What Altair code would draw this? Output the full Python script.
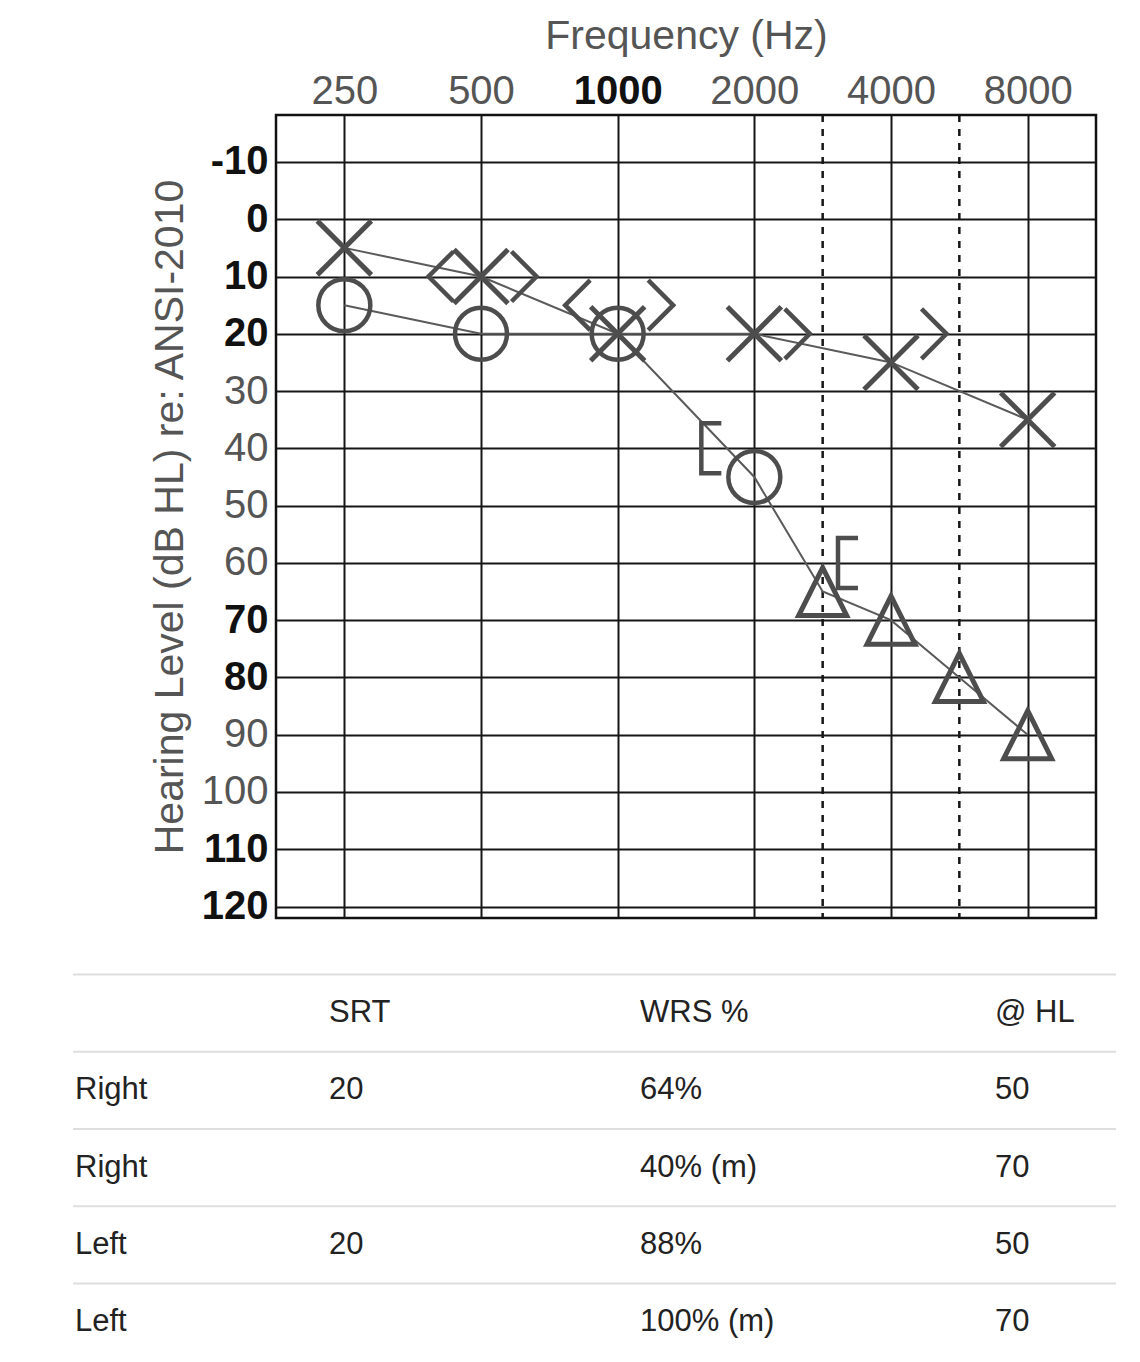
import json
import math
import altair as alt
import pandas as pd

# ---------------- audiogram data (frequency in Hz, level in dB HL) ----------------
left_air_freq = [250, 500, 1000, 2000, 4000, 8000]          # X
left_air_db = [5, 10, 20, 20, 25, 35]
right_air_freq = [250, 500, 1000, 2000]                      # O
right_air_db = [15, 20, 20, 45]
right_air_masked_freq = [3000, 4000, 6000, 8000]             # triangle
right_air_masked_db = [65, 70, 80, 90]
right_bone_freq = [500, 1000]                                # <
right_bone_db = [10, 15]
left_bone_freq = [500, 1000, 2000, 4000]                     # >
left_bone_db = [10, 15, 20, 20]
right_bone_masked_freq = [2000, 4000]                        # [
right_bone_masked_db = [40, 60]

octave_freqs = [250, 500, 1000, 2000, 4000, 8000]
octave_labels = ["250", "500", "1000", "2000", "4000", "8000"]
interoctave_freqs = [3000, 6000]
db_ticks = list(range(-10, 130, 10))
bold_db_labels = [-10, 0, 10, 20, 70, 80, 110, 120]
bold_freq_labels = ["1000"]

# ---------------- speech table ----------------
table_headers = ["", "SRT", "WRS %", "@ HL"]
table_ear = ["Right", "Right", "Left", "Left"]
table_srt = ["20", "", "20", ""]
table_wrs = ["64%", "40% (m)", "88%", "100% (m)"]
table_hl = ["50", "70", "50", "70"]

FONT = "Liberation Sans"
INK = "#4d4d4d"
GRID = "#161616"

POS = "round(2 * log(datum.freq / 250) / log(2)) / 2"


def df(freq, db):
    return pd.DataFrame({"freq": freq, "db": db})


octave_pos = [math.log2(f / octave_freqs[0]) for f in octave_freqs]
bold_x_test = " || ".join(
    f"datum.value == {octave_pos[octave_labels.index(l)]:g}" for l in bold_freq_labels
)
bold_y_test = f"indexof({json.dumps(bold_db_labels)}, datum.value) >= 0"

xscale = alt.Scale(domain=[-0.5, 5.5], nice=False, zero=False)
yscale = alt.Scale(domain=[-18.2, 122], reverse=True, nice=False, zero=False)


def X():
    return alt.X(
        "pos:Q",
        scale=xscale,
        axis=alt.Axis(
            orient="top",
            values=octave_pos,
            labelExpr=f"{json.dumps(octave_labels)}[round(datum.value)]",
            grid=True,
            gridColor=GRID,
            gridWidth=2,
            gridOpacity=1,
            ticks=False,
            domain=False,
            labelFont=FONT,
            labelFontSize=40,
            labelPadding=4,
            labelColor={"condition": {"test": bold_x_test, "value": "#111111"}, "value": "#555555"},
            labelFontWeight={"condition": {"test": bold_x_test, "value": "bold"}, "value": "normal"},
            title="Frequency (Hz)",
            titleFont=FONT,
            titleFontSize=41,
            titleFontWeight="normal",
            titleColor="#555555",
            titlePadding=14,
        ),
    )


def Y():
    return alt.Y(
        "db:Q",
        scale=yscale,
        axis=alt.Axis(
            orient="left",
            values=db_ticks,
            labelExpr="'' + datum.value",
            grid=True,
            gridColor=GRID,
            gridWidth=2,
            gridOpacity=1,
            ticks=False,
            domain=False,
            labelFont=FONT,
            labelFontSize=40,
            labelPadding=8,
            labelColor={"condition": {"test": bold_y_test, "value": "#111111"}, "value": "#555555"},
            labelFontWeight={"condition": {"test": bold_y_test, "value": "bold"}, "value": "normal"},
            title="Hearing Level (dB HL) re: ANSI-2010",
            titleFont=FONT,
            titleFontSize=41,
            titleFontWeight="normal",
            titleColor="#555555",
            titlePadding=10,
        ),
    )


def base(data):
    return alt.Chart(data).transform_calculate(pos=POS)


X_PATH = "M-1,-1L1,1M-1,1L1,-1"
TRI_PATH = "M0,-1L1,1L-1,1Z"
LT_PATH = "M0.5,-1L-0.5,0L0.5,1"
GT_PATH = "M-0.5,-1L0.5,0L-0.5,1"
BRACKET_PATH = "M0.4,-1L-0.4,-1L-0.4,1L0.4,1"

dashed = base(pd.DataFrame({"freq": interoctave_freqs})).mark_rule(
    color=GRID, strokeWidth=2.5, strokeDash=[7, 7]
).encode(x=X())

left_line = base(df(left_air_freq, left_air_db)).mark_line(
    color="#5a5a5a", strokeWidth=2
).encode(x=X(), y=Y(), order="pos:Q")

right_line = base(
    df(right_air_freq + right_air_masked_freq, right_air_db + right_air_masked_db)
).mark_line(color="#5a5a5a", strokeWidth=2).encode(x=X(), y=Y(), order="pos:Q")


def symbols(freq, db, shape, size, sw, xoff=0):
    return base(df(freq, db)).mark_point(
        shape=shape, size=size, filled=False, strokeWidth=sw, color=INK,
        opacity=1, xOffset=xoff
    ).encode(x=X(), y=Y())


audiogram = alt.layer(
    dashed,
    left_line,
    right_line,
    symbols(right_air_freq, right_air_db, "circle", 2704, 4.5),
    symbols(right_air_masked_freq, right_air_masked_db, TRI_PATH, 2304, 5),
    symbols(left_air_freq, left_air_db, X_PATH, 2916, 5),
    symbols(right_bone_freq, right_bone_db, LT_PATH, 2500, 4.5, -40),
    symbols(left_bone_freq, left_bone_db, GT_PATH, 2500, 4.5, 43),
    symbols(right_bone_masked_freq, right_bone_masked_db, BRACKET_PATH, 2500, 4.5, -43),
)

# ---------------- table below the audiogram ----------------
rows = [table_headers] + [list(r) for r in zip(table_ear, table_srt, table_wrs, table_hl)]
cells = pd.DataFrame(
    [{"row": i, "col": j, "txt": t} for i, r in enumerate(rows) for j, t in enumerate(r) if t]
)
seps = pd.DataFrame({"sep": [r - 0.5 for r in range(len(rows))] + [len(rows) - 0.5]})

tx = alt.Scale(domain=[0, 1, 2, 3], range=[-201, 53, 364, 719], nice=False, zero=False)
ty = alt.Scale(domain=[0, 4], range=[898, 1207], nice=False, zero=False)

table_rules = alt.Chart(seps).mark_rule(color="#dedede", strokeWidth=2).encode(
    y=alt.Y("sep:Q", scale=ty, axis=None),
    x=alt.value(-203),
    x2=alt.value(840),
)
table_text = alt.Chart(cells).mark_text(
    align="left", baseline="middle", font=FONT, fontSize=31, color="#222222"
).encode(
    x=alt.X("col:Q", scale=tx, axis=None),
    y=alt.Y("row:Q", scale=ty, axis=None),
    text="txt:N",
)
table = alt.layer(table_rules, table_text)

chart = (
    alt.layer(audiogram, table)
    .resolve_scale(x="independent", y="independent")
    .properties(
        width=820,
        height=803,
        autosize=alt.AutoSizeParams(type="none"),
        padding={"left": 268, "top": 107, "right": 20, "bottom": 431},
        background="#ffffff",
        view=alt.ViewBackground(stroke="#111111", strokeWidth=2.5),
    )
    .configure_view(stroke="#111111", strokeWidth=2.5)
    .configure(font=FONT)
)

chart.save("out.html", embed_options={"renderer": "svg", "actions": False})
